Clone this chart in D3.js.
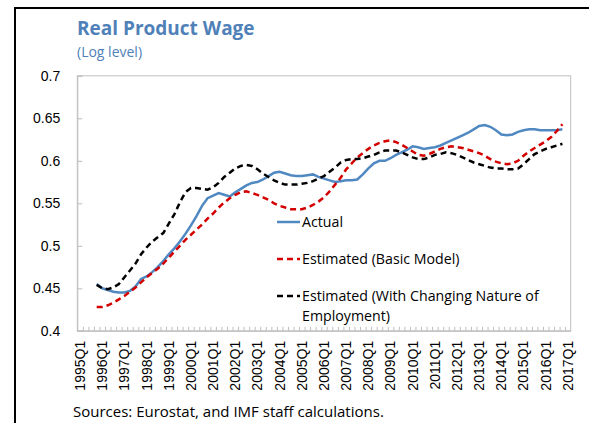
<!DOCTYPE html>
<html>
<head>
<meta charset="utf-8">
<script src="https://cdn.jsdelivr.net/npm/d3@7"></script>
<style>
	body { margin: 0; background: #fff; }
	svg { display: block; font-family: "Open Sans", "Noto Sans", sans-serif; }
</style>
</head>
<body>
<svg id="chart" width="589" height="423"></svg>
<script>
// quarters on the category axis, 1995Q1 .. 2017Q1
const years = d3.range(1995, 2018);
const quarters = years.flatMap(y => ["Q1", "Q2", "Q3", "Q4"].map(q => y + q)).slice(0, 89);
const xLabels = quarters.filter(q => q.endsWith("Q1"));
const yTicks = [0.4, 0.45, 0.5, 0.55, 0.6, 0.65, 0.7];

// series start at 1995Q4
const startQuarter = "1995Q4";
const actual = [
	.455, .450, .448, .446, .445, .445, .447, .452, .461, .464, .469, .475, .482, .490, .497, .505,
	.514, .524, .535, .547, .556, .559, .562, .560, .558, .563, .567, .571, .574, .575, .578, .582,
	.586, .587, .585, .583, .582, .582, .583, .584, .581, .579, .577, .575, .576, .577, .577, .578,
	.584, .591, .597, .600, .600, .603, .607, .610, .613, .617, .616, .614, .615, .616, .618, .621,
	.624, .627, .630, .633, .637, .641, .642, .640, .636, .631, .630, .631, .634, .636, .637, .637,
	.636, .636, .636, .636, .637
];
const basicModel = [
	.428, .428, .430, .433, .437, .441, .446, .451, .457, .463, .468, .473, .479, .486, .493, .500,
	.507, .513, .519, .525, .532, .538, .545, .551, .556, .560, .563, .564, .562, .560, .557, .554,
	.550, .547, .545, .543, .543, .543, .545, .548, .552, .557, .564, .572, .580, .590, .597, .604,
	.609, .614, .618, .621, .623, .624, .622, .619, .615, .611, .607, .606, .608, .611, .614, .616,
	.617, .616, .615, .613, .611, .609, .606, .602, .599, .597, .596, .597, .600, .606, .611, .615,
	.619, .623, .628, .635, .643
];
const changingNature = [
	.454, .450, .449, .451, .455, .463, .471, .479, .490, .498, .505, .510, .515, .526, .537, .551,
	.563, .568, .568, .567, .566, .569, .574, .581, .586, .591, .594, .595, .594, .590, .585, .581,
	.577, .574, .572, .572, .572, .573, .574, .576, .579, .582, .587, .592, .598, .601, .602, .602,
	.603, .605, .607, .610, .612, .612, .612, .610, .607, .604, .602, .602, .604, .607, .608, .610,
	.609, .607, .604, .601, .598, .596, .594, .592, .591, .591, .590, .590, .591, .596, .602, .608,
	.611, .614, .616, .618, .620
];

const seriesNames = ["Actual", "Estimated (Basic Model)", "Estimated (With Changing Nature of|Employment)"];
const seriesColors = ["#5088c2", "#d40000", "#000000"];
const seriesDash = [null, "6,4", "6,4"];

let svg = d3.select("#chart");
let margin = {top: 75.8, right: 18.3, bottom: 92.2, left: 77.3};
let width = +svg.attr("width");
let height = +svg.attr("height");

let x = d3.scaleBand()
	.domain(quarters)
	.range([margin.left, width - margin.right]);
let y = d3.scaleLinear()
	.domain([0.4, 0.7])
	.range([height - margin.bottom, margin.top]);

// outer frame of the figure
svg.append("path")
	.attr("d", `M15,430 L15,8 L600,8`)
	.attr("fill", "none")
	.attr("stroke", "#000")
	.attr("stroke-width", 2);

svg.append("text")
	.attr("x", 77)
	.attr("y", 35)
	.attr("fill", "#4f81b8")
	.attr("font-size", 19)
	.attr("font-weight", "bold")
	.text("Real Product Wage");
svg.append("text")
	.attr("x", 77)
	.attr("y", 57)
	.attr("fill", "#4f81b8")
	.attr("font-size", 14)
	.text("(Log level)");

// plot area border
svg.append("rect")
	.attr("x", margin.left)
	.attr("y", margin.top)
	.attr("width", width - margin.left - margin.right)
	.attr("height", height - margin.top - margin.bottom)
	.attr("fill", "none")
	.attr("stroke", "#bfbfbf");

let yAxis = svg.append("g")
	.attr("transform", `translate(${margin.left},0)`)
	.call(d3.axisLeft(y).tickValues(yTicks).tickSize(-5).tickPadding(17).tickFormat(d => String(+d.toFixed(2))));
yAxis.select(".domain").attr("stroke", "#bfbfbf");
yAxis.selectAll(".tick line").attr("stroke", "#bfbfbf");
yAxis.selectAll("text").attr("font-size", 14).attr("fill", "#000").attr("font-family", null);

// quarter boundary ticks along the bottom
svg.append("g")
	.selectAll("line")
	.data(quarters.slice(1))
	.join("line")
	.attr("x1", d => x(d) + 0.5)
	.attr("x2", d => x(d) + 0.5)
	.attr("y1", height - margin.bottom)
	.attr("y2", height - margin.bottom - 4)
	.attr("stroke", "#bfbfbf");

let xAxis = svg.append("g")
	.attr("transform", `translate(0,${height - margin.bottom})`)
	.call(d3.axisBottom(x).tickValues(xLabels).tickSize(0));
xAxis.select(".domain").attr("stroke", "#bfbfbf");
xAxis.selectAll("text")
	.attr("font-size", 14)
	.attr("font-family", null)
	.attr("fill", "#000")
	.attr("text-anchor", "end")
	.attr("transform", "rotate(-90)")
	.attr("x", -10)
	.attr("y", 0)
	.attr("dy", "0.35em");

let start = quarters.indexOf(startQuarter);
let line = d3.line()
	.x((d, i) => x(quarters[start + i]) + x.bandwidth() / 2)
	.y(d => y(d));

[actual, basicModel, changingNature].forEach((s, k) => {
	svg.append("path")
		.datum(s)
		.attr("fill", "none")
		.attr("stroke", seriesColors[k])
		.attr("stroke-width", 2.5)
		.attr("stroke-dasharray", seriesDash[k])
		.attr("d", line);
});

// legend inside the plot
let legend = svg.append("g")
	.selectAll("g")
	.data(seriesNames)
	.join("g")
	.attr("transform", (d, i) => `translate(277,${222 + i * 37})`);
legend.append("line")
	.attr("x1", 0)
	.attr("x2", 23)
	.attr("stroke", (d, i) => seriesColors[i])
	.attr("stroke-width", 2.5)
	.attr("stroke-dasharray", (d, i) => seriesDash[i]);
legend.append("text")
	.attr("x", 25)
	.attr("font-size", 14.2)
	.attr("fill", "#000")
	.selectAll("tspan")
	.data(d => d.split("|"))
	.join("tspan")
	.attr("x", 25)
	.attr("dy", (d, i) => i ? 20 : 5)
	.text(d => d);

svg.append("text")
	.attr("x", 73)
	.attr("y", 417)
	.attr("font-size", 15)
	.attr("fill", "#000")
	.text("Sources: Eurostat, and IMF staff calculations.");
</script>
</body>
</html>
